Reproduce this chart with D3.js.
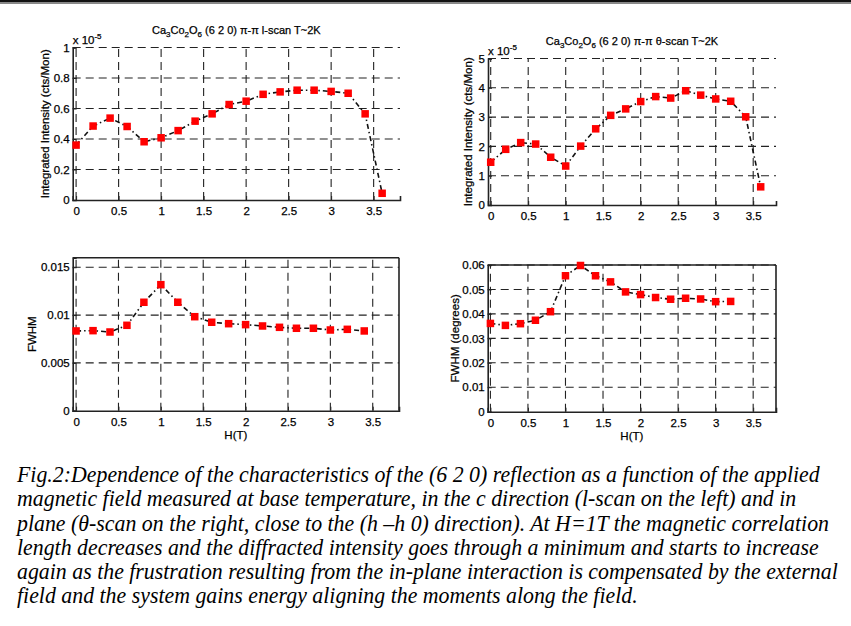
<!DOCTYPE html>
<html>
<head>
<meta charset="utf-8">
<script src="https://cdn.jsdelivr.net/npm/d3@7"></script>
<style>
  body { margin: 0; background: #fff; }
  svg { display: block; }
  .lbl { stroke: #000; stroke-width: 0.25px; }
</style>
</head>
<body>
<div id="app"></div>
<script>
// field values (T)
const hField = [0, 0.2, 0.4, 0.6, 0.8, 1.0, 1.2, 1.4, 1.6, 1.8, 2.0, 2.2, 2.4, 2.6, 2.8, 3.0, 3.2, 3.4, 3.6]
// integrated intensity, units of 1e-5 cts/Mon
const intensityL = [0.36, 0.485, 0.537, 0.482, 0.382, 0.408, 0.455, 0.517, 0.565, 0.626, 0.648, 0.693, 0.709, 0.72, 0.72, 0.712, 0.70, 0.565, 0.044]
const intensityTheta = [1.46, 1.90, 2.13, 2.08, 1.63, 1.33, 2.01, 2.60, 3.06, 3.28, 3.53, 3.70, 3.65, 3.90, 3.75, 3.62, 3.54, 3.01, 0.62]
// FWHM
const fwhmL = [0.00834, 0.00837, 0.00823, 0.00893, 0.01134, 0.01318, 0.01134, 0.00983, 0.00925, 0.0091, 0.009, 0.00886, 0.00872, 0.00862, 0.00862, 0.00844, 0.00851, 0.00834]
const fwhmTheta = [0.0361, 0.0353, 0.0360, 0.0374, 0.0409, 0.0556, 0.0598, 0.0556, 0.0531, 0.0490, 0.0479, 0.0467, 0.0460, 0.0464, 0.0461, 0.0450, 0.0451]

const xTicks = [0, 0.5, 1, 1.5, 2, 2.5, 3, 3.5]
const yTicksIntL = [0, 0.2, 0.4, 0.6, 0.8, 1]
const yTicksIntTheta = [0, 1, 2, 3, 4, 5]
const yTicksFwhmL = [0, 0.005, 0.01, 0.015]
const yTicksFwhmTheta = [0, 0.01, 0.02, 0.03, 0.04, 0.05, 0.06]

const captionLines = [
  'Fig.2:Dependence of the characteristics of the (6 2 0) reflection as a function of the applied',
  'magnetic field measured at base temperature, in the c direction (l-scan on the left) and in',
  'plane (θ-scan on the right, close to the (h –h 0) direction). At H=1T the magnetic correlation',
  'length decreases and the diffracted intensity goes through a minimum and starts to increase',
  'again as the frustration resulting from the in-plane interaction is compensated by the external',
  'field and the system gains energy aligning the moments along the field.'
]

const width = 851, height = 626
const fs = 11.5
const svg = d3.select('#app').append('svg')
    .attr('width', width).attr('height', height)
    .attr('viewBox', [0, 0, width, height])
    .style('font-family', 'Liberation Sans, Arial, sans-serif')

// top rule
svg.append('rect').attr('x', 0).attr('y', 0).attr('width', width).attr('height', 2).attr('fill', '#111')
svg.append('rect').attr('x', 0).attr('y', 2).attr('width', width).attr('height', 2).attr('fill', '#888')

function drawPanel(opt){
    const x = d3.scaleLinear().domain(opt.xDomain).range(opt.xRange)
    const y = d3.scaleLinear().domain(opt.yDomain).range(opt.yRange)
    const g = svg.append('g')
    const [x0, x1] = opt.xRange
    const [y0, y1] = opt.yRange

    // dashed grid
    g.append('g').selectAll('line').data(opt.yTicks.filter(d => d > 0)).enter().append('line')
        .attr('x1', x0).attr('x2', x1)
        .attr('y1', d => y(d)).attr('y2', d => y(d))
        .attr('stroke', '#222').attr('stroke-width', 1.1).attr('stroke-dasharray', '8,5')
    g.append('g').selectAll('line').data(xTicks).enter().append('line')
        .attr('x1', d => x(d)).attr('x2', d => x(d))
        .attr('y1', y0).attr('y2', y1)
        .attr('stroke', '#222').attr('stroke-width', 1.1).attr('stroke-dasharray', '8,5')

    // axes with inward ticks
    const ax = g.append('g').attr('transform', `translate(0,${y0})`)
        .call(d3.axisBottom(x).tickValues(xTicks).tickSize(-4).tickPadding(7).tickFormat(d3.format('')))
    const ay = g.append('g').attr('transform', `translate(${x0},0)`)
        .call(d3.axisLeft(y).tickValues(opt.yTicks).tickSize(-4).tickPadding(3).tickFormat(d3.format('')))
    for (const a of [ax, ay]) {
        a.attr('font-size', fs).attr('font-family', 'Liberation Sans, Arial, sans-serif')
        a.select('.domain').attr('stroke', '#222').attr('stroke-width', 1.6)
        a.selectAll('.tick line').attr('stroke', '#222')
        a.selectAll('text').attr('fill', '#000').attr('class', 'lbl')
    }
    if (opt.box) {
        g.append('line').attr('x1', x0).attr('x2', x1).attr('y1', y1).attr('y2', y1)
            .attr('stroke', '#222').attr('stroke-width', 1.6)
        g.append('line').attr('x1', x1).attr('x2', x1).attr('y1', y0).attr('y2', y1)
            .attr('stroke', '#222').attr('stroke-width', 1.6)
    }

    // data: dash-dot line + red squares
    const pts = opt.values.map((v, i) => ({h: hField[i], v: v}))
    const line = d3.line().x(d => x(d.h)).y(d => y(d.v))
    g.append('path').datum(pts)
        .attr('fill', 'none').attr('stroke', '#111').attr('stroke-width', 1.6)
        .attr('stroke-dasharray', '5,3,1.5,3')
        .attr('d', line)
    const ms = 7.5
    g.append('g').selectAll('rect').data(pts).enter().append('rect')
        .attr('x', d => x(d.h) - ms / 2).attr('y', d => y(d.v) - ms / 2)
        .attr('width', ms).attr('height', ms)
        .attr('fill', '#ff0000')

    // y label
    svg.append('text').attr('class', 'lbl')
        .attr('transform', `translate(${opt.yLabelX},${(y0 + y1) / 2}) rotate(-90)`)
        .attr('text-anchor', 'middle').attr('font-size', fs).attr('fill', '#000')
        .text(opt.yLabel)
    if (opt.xLabel) {
        svg.append('text').attr('class', 'lbl').attr('x', (x0 + x1) / 2).attr('y', y0 + 28)
            .attr('text-anchor', 'middle').attr('font-size', fs).attr('fill', '#000')
            .text(opt.xLabel)
    }
    if (opt.title) {
        const t = svg.append('text').attr('class', 'lbl').attr('x', (x0 + x1) / 2).attr('y', opt.titleY)
            .attr('text-anchor', 'middle').attr('font-size', 11).attr('fill', '#000')
        const parts = [['Ca', 0], ['3', 1], ['Co', 0], ['2', 1], ['O', 0], ['6', 1], [opt.title, 0]]
        for (const [s, sub] of parts) {
            t.append('tspan').text(s)
                .attr('font-size', sub ? 8 : 11)
                .attr('dy', sub ? 3 : -3)
        }
        t.select('tspan').attr('dy', 0)
    }
    if (opt.exponent) {
        const e = svg.append('text').attr('class', 'lbl').attr('x', x0).attr('y', y1 - 4)
            .attr('font-size', fs).attr('fill', '#000')
        e.append('tspan').text('x 10')
        e.append('tspan').text('-5').attr('font-size', 8).attr('dy', -5)
    }
}

drawPanel({
    xDomain: [-0.04, 3.81], xRange: [72.7, 400],
    yDomain: [0, 1], yRange: [200, 47.5],
    yTicks: yTicksIntL, values: intensityL,
    yLabel: 'Integrated Intensity (cts/Mon)', yLabelX: 49,
    title: ' (6 2 0) π-π l-scan T~2K', titleY: 34, exponent: true, box: false
})
drawPanel({
    xDomain: [-0.036, 3.804], xRange: [488, 776],
    yDomain: [0, 5], yRange: [205, 58.5],
    yTicks: yTicksIntTheta, values: intensityTheta,
    yLabel: 'Integrated Intensity (cts/Mon)', yLabelX: 472,
    title: ' (6 2 0) π-π θ-scan T~2K', titleY: 45, exponent: true, box: false
})
drawPanel({
    xDomain: [-0.04, 3.81], xRange: [72.7, 399],
    yDomain: [0, 0.016], yRange: [410.7, 257.7],
    yTicks: yTicksFwhmL, values: fwhmL,
    yLabel: 'FWHM', yLabelX: 36, xLabel: 'H(T)', box: true
})
drawPanel({
    xDomain: [-0.036, 3.804], xRange: [487.7, 776],
    yDomain: [0, 0.06], yRange: [411.7, 265],
    yTicks: yTicksFwhmTheta, values: fwhmTheta,
    yLabel: 'FWHM (degrees)', yLabelX: 459, xLabel: 'H(T)', box: true
})

// caption, Times italic squeezed horizontally as in the scan
const cap = svg.append('g').attr('transform', 'translate(17,0)')
const capText = cap.selectAll('text').data(captionLines).enter().append('text')
    .attr('x', 0).attr('y', (d, i) => 482 + i * 24.3)
    .attr('font-family', 'Liberation Serif, Times New Roman, serif')
    .attr('font-style', 'italic').attr('font-size', 23.5).attr('fill', '#000')
    .text(d => d)
const longest = capText.nodes()[4].getComputedTextLength()
const sx = 821 / longest
cap.attr('transform', `translate(17,0) scale(${sx},1)`)
</script>
</body>
</html>
